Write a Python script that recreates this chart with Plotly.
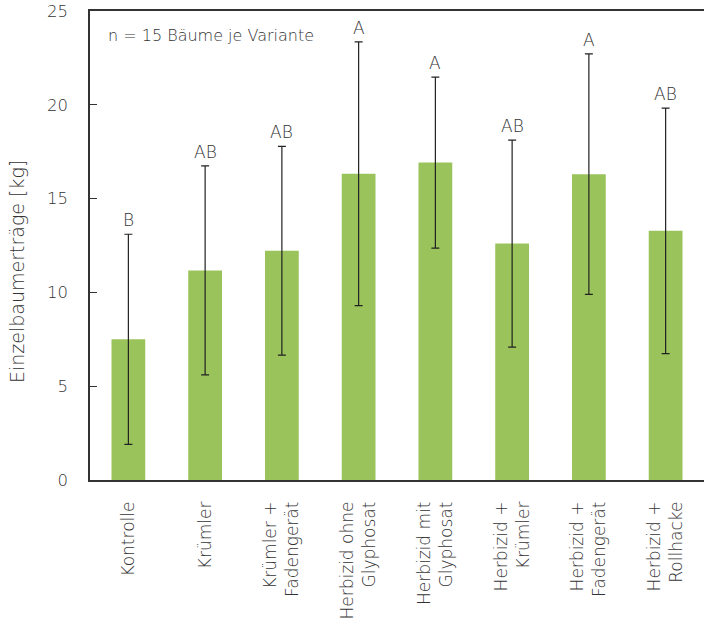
import plotly.graph_objects as go

categories = ["Kontrolle", "Krümler", "Krümler +<br>Fadengerät", "Herbizid ohne<br>Glyphosat",
              "Herbizid mit<br>Glyphosat", "Herbizid +<br>Krümler", "Herbizid +<br>Fadengerät",
              "Herbizid +<br>Rollhacke"]
means = [7.5, 11.17, 12.22, 16.32, 16.92, 12.6, 16.3, 13.28]
errors = [5.6, 5.57, 5.56, 7.03, 4.56, 5.52, 6.41, 6.54]
letters = ["B", "AB", "AB", "A", "A", "AB", "A", "AB"]
y_ticks = [0, 5, 10, 15, 20, 25]

FONT = "DejaVu Sans"
W = 200
TXT = "#333333"

fig = go.Figure()
fig.add_trace(go.Bar(
    x=categories, y=means,
    marker=dict(color="#9bc35b", line=dict(width=0)),
    width=0.44,
    error_y=dict(type="data", array=errors, visible=True, color="#222222",
                 thickness=1.2, width=4),
))

for c, m, e, l in zip(categories, means, errors, letters):
    fig.add_annotation(x=c, y=m + e, text=l, showarrow=False, xref="x", yref="y",
                       yanchor="bottom", yshift=2,
                       font=dict(family=FONT, size=17, color=TXT, weight=W))

fig.add_annotation(x=0.026, xref="paper", y=23.7, yref="y", text="n = 15 Bäume je Variante",
                   showarrow=False, xanchor="left", yanchor="middle",
                   font=dict(family=FONT, size=16, color=TXT, weight=W))

fig.add_annotation(x=(17 - 90) / 614, xref="paper", y=(622 - 272 - 142) / 469, yref="paper",
                   text="Einzelbaumerträge [kg]",
                   showarrow=False, textangle=-90, xanchor="center", yanchor="middle",
                   font=dict(family=FONT, size=19, color=TXT, weight=W))

fig.update_layout(
    width=704, height=622,
    margin=dict(l=90, r=0, t=11, b=142, autoexpand=False),
    plot_bgcolor="white", paper_bgcolor="white",
    showlegend=False,
    font=dict(family=FONT, color=TXT, size=16, weight=W),
    bargap=0.56,
)
fig.update_xaxes(
    showline=True, linecolor="#333333", linewidth=1.5, mirror=True,
    ticks="", tickangle=-90, ticklabelstandoff=13, automargin=False,
    tickfont=dict(family=FONT, size=17, color=TXT, weight=W),
    showgrid=False,
)
fig.update_yaxes(
    range=[0, 25], tickvals=y_ticks, showline=True, linecolor="#333333", linewidth=1.5,
    ticks="inside", ticklen=7, tickcolor="#333333", tickwidth=1.2,
    ticklabelstandoff=17, automargin=False,
    tickfont=dict(family=FONT, size=16.5, color=TXT, weight=W),
    showgrid=False, zeroline=False,
)

fig.write_html("out.html")
